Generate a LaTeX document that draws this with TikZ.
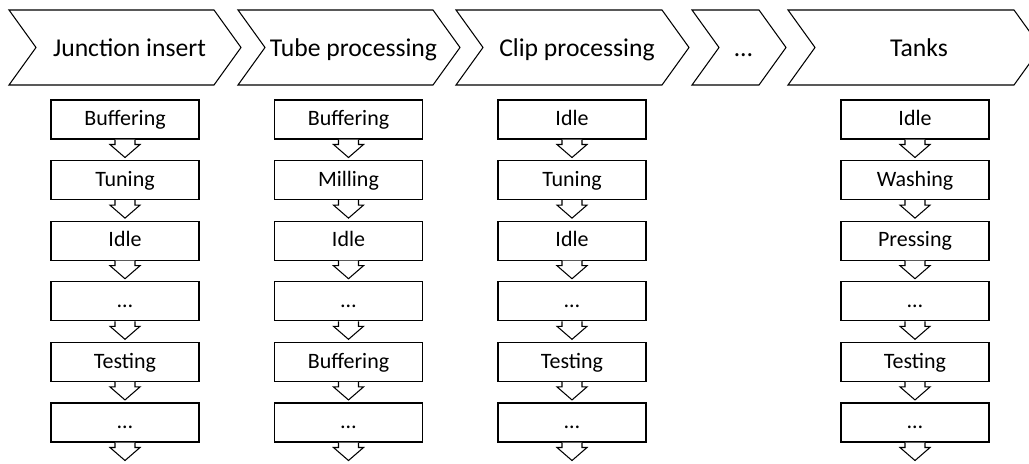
\documentclass[tikz,border=0pt]{standalone}
\usepackage{fontspec}
\setmainfont{Carlito}
\usetikzlibrary{positioning}

\begin{document}
\begin{tikzpicture}[
        stage/.style={draw=black, line width=0.6pt, fill=white, line join=miter},
        stagelabel/.style={anchor=base, font=\fontsize{14.6}{17}\selectfont},
        state/.style={draw=black, line width=0.6pt, fill=white,
                      minimum width=2.96cm, minimum height=0.78cm, inner sep=0pt,
                      text height=9pt, text depth=2pt,
                      font=\fontsize{12.5}{15}\selectfont},
        flow/.style={draw=black, line width=0.6pt, fill=white, line join=miter}]
      \clip (0,0) rectangle (20.58,-9.28);
      % process chain
      \foreach \xa/\xb/\txt/\nm in {0.18/4.82/Junction insert/junc,
                                    4.76/9.20/Tube processing/tube,
                                    9.12/13.78/Clip processing/clip,
                                    13.84/15.72/\ldots/more,
                                    15.76/20.82/Tanks/tanks}{
        \draw[stage] (\xa,-0.2) -- (\xb-0.54,-0.2) -- (\xb,-0.95)
                     -- (\xb-0.54,-1.7) -- (\xa,-1.7) -- (\xa+0.54,-0.95) -- cycle;
        \node[stagelabel] (\nm) at ({(\xa+\xb)/2+0.09},-1.14) {\txt};
      }
      % states of each station
      \foreach \cx/\col/\lbls in {2.5/j/{Buffering,Tuning,Idle,\ldots,Testing,\ldots},
                                  6.97/t/{Buffering,Milling,Idle,\ldots,Buffering,\ldots},
                                  11.44/c/{Idle,Tuning,Idle,\ldots,Testing,\ldots},
                                  18.3/k/{Idle,Washing,Pressing,\ldots,Testing,\ldots}}{
        \foreach \lbl [count=\r] in \lbls {
          \node[state] (\col\r) at (\cx,{-2.39-1.212*(\r-1)}) {\lbl};
          \draw[flow] (\col\r.south) ++(-0.2,0) -- ++(0,-0.1) -- ++(-0.1,0)
                      -- ++(0.3,-0.26) -- ++(0.3,0.26) -- ++(-0.1,0) -- ++(0,0.1);
        }
      }
    \end{tikzpicture}
\end{document}
